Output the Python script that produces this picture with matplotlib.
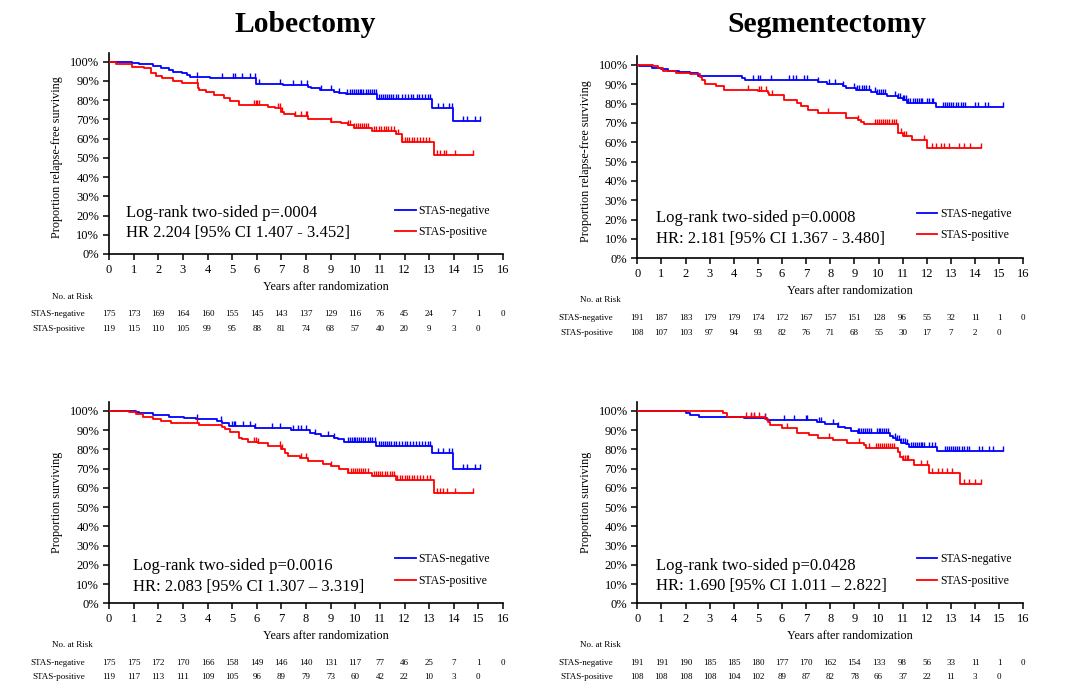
import numpy as np
import matplotlib
matplotlib.use("Agg")
import matplotlib.pyplot as plt
from matplotlib.transforms import blended_transform_factory

plt.rcParams['font.family'] = ['Liberation Serif', 'DejaVu Serif']

years = list(range(17))
pct_labels = [f"{v}%" for v in range(0, 101, 10)]

# ---- Lobectomy, relapse-free survival (top left)
a_neg_t = [0, 0.35, 0.95, 1.2, 1.77, 2.1, 2.45, 2.6, 2.98, 3.18, 3.28, 4.12, 5.96, 7.07,
           8.08, 8.2, 8.55, 9.15, 9.36, 9.62, 10.87, 13.11, 13.96]
a_neg_s = [1.0, 0.997, 0.991, 0.986, 0.977, 0.965, 0.957, 0.948, 0.939, 0.931, 0.922, 0.913,
           0.884, 0.878, 0.866, 0.861, 0.852, 0.844, 0.835, 0.83, 0.808, 0.761, 0.69]
a_neg_end = 15.06
a_neg_c = [3.58, 4.59, 5.02, 5.1, 5.42, 5.73, 5.93, 6.09, 6.94, 7.48, 7.79, 8.05, 8.62, 9.02,
           9.36, 9.66, 9.8, 9.88, 9.95, 10.02, 10.1, 10.18, 10.25, 10.33, 10.42, 10.5, 10.58,
           10.66, 10.75, 10.83, 10.97, 11.05, 11.12, 11.2, 11.28, 11.36, 11.45, 11.55, 11.65,
           11.75, 11.9, 12.0, 12.15, 12.25, 12.35, 12.5, 12.6, 12.72, 12.85, 12.95, 13.05,
           13.38, 13.58, 13.79, 13.92, 14.39, 14.52, 14.86, 15.06]
a_pos_t = [0, 0.3, 0.94, 1.44, 1.7, 1.9, 2.17, 2.58, 2.98, 3.6, 3.65, 3.92, 4.25, 4.66, 4.93,
           5.26, 6.47, 6.74, 7.0, 7.1, 7.55, 8.08, 9.02, 9.42, 9.7, 9.96, 10.7, 11.64, 11.9, 13.18]
a_pos_s = [1.0, 0.986, 0.974, 0.965, 0.939, 0.927, 0.917, 0.899, 0.887, 0.865, 0.852, 0.84,
           0.826, 0.809, 0.797, 0.775, 0.766, 0.757, 0.74, 0.726, 0.716, 0.701, 0.688, 0.679,
           0.67, 0.657, 0.641, 0.623, 0.584, 0.516]
a_pos_end = 14.79
a_pos_c = [3.58, 5.87, 5.95, 6.02, 6.1, 6.87, 6.95, 7.02, 7.55, 7.81, 8.01, 8.06, 9.02, 9.72,
           9.8, 9.96, 10.04, 10.12, 10.2, 10.28, 10.36, 10.44, 10.52, 10.76, 10.85, 10.95,
           11.05, 11.15, 11.25, 11.35, 11.45, 11.57, 11.75, 11.9, 12.0, 12.1, 12.2, 12.3, 12.4,
           12.5, 12.62, 12.75, 12.87, 12.98, 13.3, 13.45, 13.6, 13.68, 14.05, 14.79]
a_neg_risk = [175, 173, 169, 164, 160, 155, 145, 143, 137, 129, 116, 76, 45, 24, 7, 1, 0]
a_pos_risk = [119, 115, 110, 105, 99, 95, 88, 81, 74, 68, 57, 40, 20, 9, 3, 0]

# ---- Segmentectomy, relapse-free survival (top right)
b_neg_t = [0, 0.05, 0.6, 1.0, 1.27, 1.73, 2.2, 2.53, 4.33, 4.47, 7.47, 7.87, 8.53, 8.67,
           9.07, 9.67, 9.93, 10.33, 10.8, 11.0, 11.2, 12.4]
b_neg_s = [1.0, 0.995, 0.986, 0.977, 0.969, 0.965, 0.957, 0.943, 0.931, 0.922, 0.913, 0.903,
           0.891, 0.882, 0.87, 0.859, 0.85, 0.839, 0.83, 0.821, 0.805, 0.783]
b_neg_end = 15.15
b_neg_c = [4.8, 5.0, 5.07, 5.53, 6.27, 6.47, 6.56, 6.93, 7.04, 7.47, 7.93, 8.2, 8.53, 9.0,
           9.1, 9.2, 9.3, 9.4, 9.5, 9.6, 9.87, 9.95, 10.03, 10.1, 10.18, 10.27, 10.67, 10.82,
           10.9, 11.0, 11.07, 11.15, 11.22, 11.3, 11.42, 11.5, 11.58, 11.66, 11.74, 11.8, 12.0,
           12.1, 12.2, 12.27, 12.67, 12.75, 12.83, 12.92, 13.0, 13.1, 13.2, 13.3, 13.4, 13.5,
           13.6, 14.0, 14.13, 14.4, 14.53, 15.15]
b_pos_t = [0, 0.67, 0.87, 1.07, 1.6, 2.2, 2.6, 2.67, 2.8, 3.27, 3.6, 5.0, 5.4, 5.47, 6.07,
           6.6, 6.8, 7.07, 7.47, 8.67, 9.13, 9.27, 9.4, 10.8, 11.0, 11.4, 12.0]
b_pos_s = [1.0, 0.995, 0.986, 0.969, 0.96, 0.951, 0.938, 0.92, 0.903, 0.891, 0.873, 0.865,
           0.856, 0.844, 0.821, 0.804, 0.786, 0.769, 0.752, 0.726, 0.717, 0.705, 0.694, 0.648,
           0.635, 0.613, 0.573]
b_pos_end = 14.24
b_pos_c = [4.57, 5.04, 5.12, 5.33, 5.6, 7.9, 9.16, 9.87, 9.95, 10.03, 10.11, 10.2, 10.28,
           10.36, 10.45, 10.55, 10.65, 10.73, 10.95, 11.04, 11.12, 11.9, 12.2, 12.4, 12.6,
           12.73, 12.93, 13.33, 13.53, 13.8, 14.24]
b_neg_risk = [191, 187, 183, 179, 179, 174, 172, 167, 157, 151, 128, 96, 55, 32, 11, 1, 0]
b_pos_risk = [108, 107, 103, 97, 94, 93, 82, 76, 71, 68, 55, 30, 17, 7, 2, 0]

# ---- Lobectomy, overall survival (bottom left)
c_neg_t = [0, 1.1, 1.23, 1.77, 2.44, 3.05, 3.52, 4.39, 4.59, 4.86, 5.93, 7.41, 8.15, 8.35,
           8.62, 9.15, 9.29, 9.56, 10.83, 13.11, 13.96]
c_neg_s = [1.0, 0.995, 0.986, 0.977, 0.97, 0.962, 0.957, 0.948, 0.934, 0.922, 0.91, 0.901,
           0.887, 0.878, 0.87, 0.861, 0.852, 0.84, 0.817, 0.778, 0.697]
c_neg_end = 15.06
c_neg_c = [3.58, 4.56, 4.99, 5.06, 5.13, 5.46, 5.73, 5.93, 6.6, 6.94, 7.48, 7.68, 7.81, 8.01,
           8.35, 8.89, 9.15, 9.69, 9.77, 9.85, 9.93, 10.01, 10.09, 10.17, 10.25, 10.33, 10.41,
           10.5, 10.6, 10.7, 10.8, 10.97, 11.05, 11.13, 11.21, 11.3, 11.38, 11.46, 11.56,
           11.66, 11.76, 11.9, 12.0, 12.12, 12.22, 12.35, 12.48, 12.6, 12.72, 12.85, 12.95,
           13.05, 13.38, 13.58, 13.79, 13.92, 14.39, 14.52, 14.86, 15.06]
c_pos_t = [0, 0.83, 1.1, 1.37, 1.77, 2.1, 2.51, 3.65, 4.59, 4.72, 4.93, 5.26, 5.4, 5.66, 6.07,
           6.47, 7.0, 7.14, 7.28, 7.75, 8.08, 8.68, 9.02, 9.36, 9.69, 10.7, 11.64, 13.18]
c_pos_s = [1.0, 0.991, 0.983, 0.969, 0.957, 0.948, 0.934, 0.927, 0.917, 0.905, 0.892, 0.861,
           0.852, 0.84, 0.83, 0.818, 0.80, 0.783, 0.766, 0.753, 0.74, 0.726, 0.714, 0.696,
           0.679, 0.663, 0.641, 0.572]
c_pos_end = 14.79
c_pos_c = [3.58, 5.87, 5.95, 6.07, 6.94, 7.03, 7.78, 8.01, 9.02, 9.69, 9.83, 9.9, 9.98,
           10.06, 10.14, 10.22, 10.3, 10.4, 10.5, 10.76, 10.84, 10.92, 11.0, 11.1, 11.2, 11.3,
           11.4, 11.5, 11.57, 11.7, 11.8, 11.9, 12.0, 12.1, 12.2, 12.3, 12.4, 12.52, 12.64,
           12.76, 12.9, 13.05, 13.3, 13.45, 13.58, 13.72, 14.05, 14.79]
c_neg_risk = [175, 175, 172, 170, 166, 158, 149, 146, 140, 131, 117, 77, 46, 25, 7, 1, 0]
c_pos_risk = [119, 117, 113, 111, 109, 105, 96, 89, 79, 73, 60, 42, 22, 10, 3, 0]

# ---- Segmentectomy, overall survival (bottom right)
d_neg_t = [0, 1.4, 2.0, 2.2, 2.55, 4.43, 5.37, 7.45, 7.79, 8.32, 8.6, 8.86, 9.13, 9.73,
           10.47, 10.6, 10.74, 10.94, 11.14, 11.28, 12.42]
d_neg_s = [1.0, 0.997, 0.986, 0.979, 0.97, 0.962, 0.952, 0.941, 0.931, 0.918, 0.908, 0.896,
           0.887, 0.882, 0.87, 0.858, 0.847, 0.835, 0.826, 0.812, 0.789]
d_neg_end = 15.15
d_neg_c = [4.7, 4.85, 5.3, 6.1, 6.51, 6.98, 7.05, 7.52, 7.6, 8.12, 8.32, 9.13, 9.2, 9.28,
           9.36, 9.44, 9.52, 9.6, 9.7, 9.93, 10.0, 10.08, 10.16, 10.24, 10.32, 10.4, 10.67,
           10.78, 10.86, 10.94, 11.02, 11.1, 11.18, 11.34, 11.42, 11.5, 11.58, 11.66, 11.74,
           11.82, 11.88, 12.08, 12.2, 12.35, 12.75, 12.83, 12.91, 13.0, 13.08, 13.16, 13.25,
           13.35, 13.45, 13.55, 13.65, 13.76, 14.17, 14.3, 14.57, 14.75, 15.15]
d_pos_t = [0, 3.55, 3.7, 5.3, 5.4, 5.5, 6.0, 6.6, 7.1, 7.5, 8.1, 8.7, 9.4, 9.5, 10.8, 10.9,
           11.0, 11.48, 12.08, 13.36]
d_pos_s = [1.0, 0.986, 0.965, 0.957, 0.939, 0.927, 0.91, 0.887, 0.875, 0.861, 0.85, 0.835,
           0.82, 0.808, 0.785, 0.76, 0.742, 0.717, 0.678, 0.618]
d_pos_end = 14.24
d_pos_c = [4.5, 4.7, 4.85, 5.05, 5.3, 6.2, 7.95, 9.2, 9.6, 9.9, 9.98, 10.06, 10.14, 10.22,
           10.3, 10.38, 10.46, 10.55, 10.65, 11.0, 11.08, 11.16, 11.22, 11.75, 12.0, 12.2,
           12.45, 12.65, 12.85, 13.05, 13.55, 13.75, 14.0, 14.24]
d_neg_risk = [191, 191, 190, 185, 185, 180, 177, 170, 162, 154, 133, 98, 56, 33, 11, 1, 0]
d_pos_risk = [108, 108, 108, 108, 104, 102, 89, 87, 82, 78, 66, 37, 22, 11, 3, 0]

titles = ["Lobectomy", "Segmentectomy"]
group_labels = ["STAS-negative", "STAS-positive"]
ylabels = ["Proportion relapse-free surviving", "Proportion relapse-free surviving",
           "Proportion surviving", "Proportion surviving"]
stat_lines = [
    ["Log-rank two-sided p=.0004", "HR 2.204 [95% CI 1.407 - 3.452]"],
    ["Log-rank two-sided p=0.0008", "HR: 2.181 [95% CI 1.367 - 3.480]"],
    ["Log-rank two-sided p=0.0016", "HR: 2.083 [95% CI 1.307 \u2013 3.319]"],
    ["Log-rank two-sided p=0.0428", "HR: 1.690 [95% CI 1.011 \u2013 2.822]"],
]

BLUE = "#0000ff"
RED = "#ff0000"
W, H = 1080, 699

fig = plt.figure(figsize=(W / 100, H / 100), dpi=100)


def rect(x0, x1, ytop, ybot):
    return [x0 / W, 1 - ybot / H, (x1 - x0) / W, (ybot - ytop) / H]


# layout in pixels: axes box, stat text, legend, risk table rows
layout = [
    dict(box=rect(109, 503, 52.7, 254), ytop=1.047, stat=(0.69, 0.205, 0.103), leg=(0.726, 0.162),
         ylab=(-0.117, 0.48), risk_hdr=(72, 297), risk_rows=(314.3, 328.7), lab_right=85),
    dict(box=rect(637.3, 1023.3, 55.7, 258.3), ytop=1.048, stat=(0.78, 0.197, 0.094), leg=(0.724, 0.166),
         ylab=(-0.118, 0.48), risk_hdr=(600, 300), risk_rows=(317.7, 332.7), lab_right=613),
    dict(box=rect(109, 503, 401.7, 603.3), ytop=1.047, stat=(0.96, 0.185, 0.082), leg=(0.726, 0.165),
         ylab=(-0.117, 0.5), risk_hdr=(72, 645), risk_rows=(662.7, 677.3), lab_right=85),
    dict(box=rect(637.3, 1023.3, 401.7, 603.3), ytop=1.047, stat=(0.78, 0.185, 0.086), leg=(0.724, 0.165),
         ylab=(-0.118, 0.5), risk_hdr=(600, 645), risk_rows=(662.7, 677.3), lab_right=613),
]

curves = [
    [(a_neg_t, a_neg_s, a_neg_end, a_neg_c), (a_pos_t, a_pos_s, a_pos_end, a_pos_c)],
    [(b_neg_t, b_neg_s, b_neg_end, b_neg_c), (b_pos_t, b_pos_s, b_pos_end, b_pos_c)],
    [(c_neg_t, c_neg_s, c_neg_end, c_neg_c), (c_pos_t, c_pos_s, c_pos_end, c_pos_c)],
    [(d_neg_t, d_neg_s, d_neg_end, d_neg_c), (d_pos_t, d_pos_s, d_pos_end, d_pos_c)],
]
risks = [(a_neg_risk, a_pos_risk), (b_neg_risk, b_pos_risk),
         (c_neg_risk, c_pos_risk), (d_neg_risk, d_pos_risk)]

for k in range(4):
    lay = layout[k]
    ax = fig.add_axes(lay["box"])
    handles = []
    for (t, s, end, cens), color in zip(curves[k], [BLUE, RED]):
        tt = np.append(t, end)
        ss = np.append(s, s[-1])
        ln, = ax.step(tt, ss, where="post", color=color, lw=1.3, zorder=3)
        handles.append(ln)
        idx = np.searchsorted(t, cens, side="right") - 1
        ax.plot(cens, np.asarray(s)[idx], ls="none", marker=2, ms=3.5, mew=1.0,
                color=color, zorder=3)

    ax.set_xlim(0, 16)
    ax.set_ylim(0, lay["ytop"])
    ax.set_xticks(years)
    ax.set_yticks(np.arange(0, 11) / 10)
    ax.set_yticklabels(pct_labels)
    for side in ["top", "right"]:
        ax.spines[side].set_visible(False)
    for side in ["left", "bottom"]:
        ax.spines[side].set_linewidth(1.2)
    ax.tick_params(axis="both", direction="out", length=4, width=1.1, labelsize=9)
    ax.tick_params(axis="x", pad=3)
    ax.tick_params(axis="y", pad=3)

    ax.set_ylabel(ylabels[k], fontsize=8.7)
    ax.yaxis.set_label_coords(*lay["ylab"])
    ax.text(0.55, -0.162, "Years after randomization", transform=ax.transAxes,
            ha="center", va="center", fontsize=8.7)

    sx, sy1, sy2 = lay["stat"]
    trans_xa = blended_transform_factory(ax.transData, ax.transAxes)
    ax.text(sx, sy1, stat_lines[k][0], transform=trans_xa, ha="left", va="center", fontsize=12)
    ax.text(sx, sy2, stat_lines[k][1], transform=trans_xa, ha="left", va="center", fontsize=12)

    ax.legend(handles, group_labels, loc="center left", bbox_to_anchor=lay["leg"],
              frameon=False, fontsize=8.5, handlelength=1.75, handletextpad=0.2,
              labelspacing=0.8, borderpad=0, borderaxespad=0)

    # number at risk table
    hx, hy = lay["risk_hdr"]
    fig.text(hx / W, 1 - hy / H, "No. at Risk", ha="center", va="center", fontsize=6.5)
    trans_rf = blended_transform_factory(ax.transData, fig.transFigure)
    for row_y, lab, vals in zip(lay["risk_rows"], group_labels, risks[k]):
        fig.text(lay["lab_right"] / W, 1 - row_y / H, lab, ha="right", va="center", fontsize=6.5)
        for i, n in enumerate(vals):
            ax.text(years[i], 1 - row_y / H, str(n), transform=trans_rf, ha="center",
                    va="center", fontsize=6.5, clip_on=False)

fig.text(305 / W, 1 - 32.3 / H, titles[0], ha="center", va="baseline", fontsize=21.3, fontweight="bold")
fig.text(827 / W, 1 - 32.3 / H, titles[1], ha="center", va="baseline", fontsize=21.3, fontweight="bold")

fig.savefig("out.png", dpi=100)
